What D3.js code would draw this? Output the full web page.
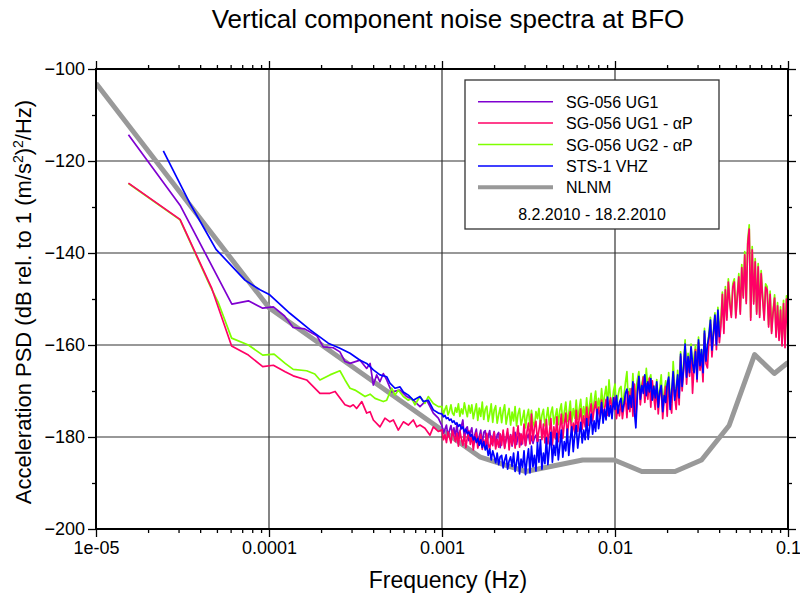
<!DOCTYPE html>
<html lang="en">
<head>
<meta charset="UTF-8" />
<title>Vertical component noise spectra at BFO</title>
<script src="https://d3js.org/d3.v7.min.js"></script>
<style>
  body { margin: 0; background: #fff; }
  svg { display: block; font-family: "Liberation Sans", Arial, Helvetica, sans-serif; }
  .grid line { stroke: #333; stroke-width: 1.2px; }
  .axis line { stroke: #000; stroke-width: 1.3px; }
  .axis text { font-size: 18px; fill: #000; font-family: "Liberation Sans", Arial, sans-serif; }
  .trace { fill: none; stroke-linejoin: round; }
</style>
</head>
<body>
<svg width="800" height="596"></svg>
<script>
// New Low Noise Model (Peterson) breakpoints
const nlnmFreq = [1e-5, 1e-4, 1.667e-3, 3.049e-3, 6.494e-3, 9.901e-3, 1.4286e-2, 2.2222e-2, 3.1646e-2, 4.5662e-2, 6.4103e-2, 8.3333e-2, 0.1];
const nlnmDb = [-103.1, -151.9, -184.4, -187.5, -185.0, -185.0, -187.5, -187.5, -185.0, -177.5, -162.1, -166.2, -163.8];

// low frequency part (below 1 mHz)
const ug1Freq = [1.54e-5, 3.06e-5, 6.1e-5, 7.6e-5, 9.2e-5, 1.06e-4, 1.23e-4, 1.38e-4, 1.61e-4, 1.89e-4, 2.06e-4, 2.35e-4, 2.57e-4, 2.75e-4, 2.94e-4, 3.36e-4, 3.67e-4, 3.84e-4, 4.01e-4, 4.19e-4, 4.38e-4, 4.58e-4, 4.79e-4, 5.12e-4, 5.72e-4, 6.25e-4, 6.82e-4, 7.46e-4, 8.16e-4, 8.91e-4, 9.52e-4];
const ug1Db = [-114.3, -129.6, -151.1, -150.4, -152.0, -151.7, -153.7, -156.2, -156.5, -158.0, -160.4, -160.6, -161.5, -163.6, -164.0, -163.3, -165.1, -164.0, -168.7, -166.5, -168.0, -166.2, -167.6, -170.2, -169.8, -171.2, -172.0, -173.4, -172.0, -174.8, -175.9];

const ug1apFreq = [1.54e-5, 3.06e-5, 4.67e-5, 6.08e-5, 7.6e-5, 9.2e-5, 1.06e-4, 1.24e-4, 1.38e-4, 1.65e-4, 1.97e-4, 2.25e-4, 2.41e-4, 2.75e-4, 2.94e-4, 3.07e-4, 3.21e-4, 3.44e-4, 3.67e-4, 3.84e-4, 4.01e-4, 4.38e-4, 4.68e-4, 5.0e-4, 5.23e-4, 5.59e-4, 5.98e-4, 6.39e-4, 6.82e-4, 7.14e-4, 7.46e-4, 7.97e-4, 8.52e-4, 8.91e-4, 9.52e-4];
const ug1apDb = [-124.8, -132.7, -147.7, -160.2, -162.2, -164.7, -164.4, -165.8, -166.7, -167.6, -170.5, -170.5, -170.1, -173.0, -173.4, -173.0, -173.8, -172.3, -174.8, -174.5, -176.3, -177.8, -175.9, -176.7, -176.3, -178.5, -176.7, -177.4, -176.3, -177.8, -177.4, -178.1, -179.6, -177.8, -178.8];

const ug2apFreq = [1.54e-5, 3.06e-5, 4.6e-5, 5.07e-5, 6.08e-5, 7.6e-5, 9.2e-5, 1.07e-4, 1.24e-4, 1.38e-4, 1.65e-4, 1.84e-4, 1.97e-4, 2.25e-4, 2.57e-4, 2.75e-4, 2.94e-4, 3.14e-4, 3.36e-4, 3.59e-4, 3.84e-4, 4.1e-4, 4.38e-4, 4.58e-4, 4.79e-4, 5.12e-4, 5.35e-4, 5.59e-4, 5.98e-4, 6.39e-4, 6.68e-4, 6.98e-4, 7.46e-4, 7.97e-4, 8.33e-4, 8.91e-4, 9.52e-4];
const ug2apDb = [-124.9, -132.8, -147.4, -150.6, -158.5, -160.0, -162.2, -162.0, -164.0, -165.3, -165.6, -166.3, -167.6, -166.5, -165.6, -167.6, -169.4, -169.8, -170.5, -171.2, -170.7, -171.6, -172.0, -172.3, -172.0, -169.4, -170.9, -169.8, -171.2, -172.0, -171.6, -173.0, -171.2, -172.7, -171.2, -172.7, -173.4];

const stsFreq = [2.45e-5, 3.49e-5, 4.27e-5, 4.94e-5, 7.26e-5, 8.87e-5, 1.01e-4, 1.32e-4, 1.73e-4, 2.2e-4, 2.57e-4, 2.94e-4, 3.36e-4, 3.67e-4, 4.01e-4, 4.38e-4, 4.79e-4, 5.0e-4, 5.35e-4, 5.72e-4, 5.98e-4, 6.39e-4, 6.82e-4, 7.46e-4, 7.8e-4, 8.33e-4, 8.91e-4, 9.52e-4];
const stsDb = [-117.8, -129.2, -135.0, -139.2, -145.9, -148.0, -149.1, -153.1, -156.7, -159.6, -160.7, -161.8, -163.3, -164.0, -165.4, -166.5, -166.9, -168.3, -169.4, -169.1, -170.2, -170.9, -172.0, -171.2, -172.3, -172.0, -174.1, -174.8];

// spectral bins per decade above 1 mHz (mantissas)
const binMant = [
  1.000, 1.020, 1.040, 1.061, 1.083, 1.104, 1.127, 1.149, 1.172, 1.196,
  1.219, 1.244, 1.269, 1.295, 1.320, 1.347, 1.374, 1.401, 1.429, 1.458,
  1.487, 1.517, 1.548, 1.579, 1.610, 1.643, 1.675, 1.709, 1.743, 1.778,
  1.814, 1.850, 1.887, 1.925, 1.964, 2.003, 2.043, 2.084, 2.126, 2.169,
  2.212, 2.257, 2.302, 2.348, 2.395, 2.443, 2.492, 2.542, 2.593, 2.645,
  2.698, 2.752, 2.807, 2.864, 2.921, 2.980, 3.039, 3.100, 3.162, 3.226,
  3.290, 3.356, 3.424, 3.492, 3.562, 3.634, 3.707, 3.781, 3.857, 3.934,
  4.013, 4.093, 4.175, 4.259, 4.345, 4.432, 4.520, 4.611, 4.703, 4.798,
  4.894, 4.992, 5.092, 5.194, 5.298, 5.404, 5.513, 5.623, 5.736, 5.851,
  5.968, 6.088, 6.210, 6.335, 6.462, 6.591, 6.723, 6.858, 6.996, 7.136,
  7.279, 7.425, 7.574, 7.726, 7.881, 8.039, 8.200, 8.365, 8.532, 8.703,
  8.878, 9.056, 9.237, 9.422, 9.611, 9.804];
const hfFreq = [...binMant.map(m => m * 1e-3), ...binMant.map(m => m * 1e-2), 0.1];

const ug1HF = [
  -177.6, -179.2, -178.3, -177.4, -179.8, -178.6, -177.5, -179.5, -178.0, -179.9,
  -177.3, -180.0, -178.8, -177.6, -176.3, -180.5, -178.2, -177.8, -180.8, -179.0,
  -178.0, -181.2, -179.5, -178.3, -181.4, -179.8, -178.5, -181.6, -179.0, -178.6,
  -182.0, -179.8, -178.6, -181.5, -180.2, -178.8, -182.1, -179.5, -179.0, -182.3,
  -180.3, -179.0, -182.2, -180.6, -179.1, -181.8, -179.5, -182.0, -180.2, -179.0,
  -181.6, -179.8, -179.2, -181.7, -180.5, -179.0, -181.8, -180.0, -179.4, -181.5,
  -179.8, -181.4, -180.2, -179.6, -181.2, -180.4];

const ug1apHF = [
  -178.4, -180.6, -179.5, -181.2, -178.9, -180.0, -181.3, -178.6, -179.8, -181.0,
  -179.2, -182.0, -178.7, -180.5, -181.8, -179.4, -182.3, -180.1, -178.6, -181.6,
  -179.6, -182.8, -180.3, -179.1, -182.4, -181.0, -179.4, -182.7, -180.6, -182.0,
  -179.2, -181.5, -182.8, -179.8, -181.9, -179.0, -182.6, -180.5, -182.2, -179.3,
  -181.8, -178.5, -182.5, -180.2, -178.2, -182.8, -179.6, -181.7, -177.9, -182.4,
  -180.0, -177.6, -182.2, -179.3, -181.5, -177.2, -181.9, -178.8, -177.0, -181.4,
  -175.0, -180.8, -177.9, -176.6, -181.0, -178.5, -176.4, -180.6, -177.2, -181.3,
  -176.2, -181.5, -179.0, -176.0, -181.7, -177.8, -180.4, -175.6, -181.0, -178.1,
  -175.0, -180.3, -177.2, -174.8, -179.8, -176.6, -174.5, -179.6, -177.0, -179.0,
  -174.2, -178.8, -176.0, -173.9, -178.3, -175.4, -177.8, -173.5, -177.5, -175.0,
  -172.8, -176.5, -174.0, -172.3, -175.8, -173.5, -175.9, -172.0, -175.6, -173.8,
  -171.8, -175.3, -173.0, -171.5, -175.0, -172.6, -171.4, -176.0, -173.5, -175.4,
  -172.0, -176.0, -173.2, -171.0, -175.8, -170.2, -174.5, -169.5, -175.5, -168.5,
  -176.0, -170.0, -167.3, -173.0, -169.5, -167.0, -172.5, -168.4, -171.8, -167.2,
  -173.5, -167.8, -171.2, -174.0, -168.5, -175.0, -170.6, -169.3, -176.0, -171.5,
  -169.0, -175.5, -167.5, -172.8, -174.8, -166.3, -171.0, -174.0, -167.8, -173.0,
  -162.5, -170.0, -165.5, -160.3, -168.5, -163.0, -166.8, -160.8, -170.5, -164.5,
  -161.0, -168.0, -159.5, -165.5, -162.5, -168.0, -157.5, -164.0, -165.0, -158.8,
  -155.5, -162.6, -158.0, -153.8, -161.0, -153.0, -159.5, -156.0, -149.0, -157.5,
  -148.0, -154.6, -146.3, -151.0, -154.0, -147.4, -146.3, -154.1, -149.5, -145.2,
  -153.3, -143.2, -149.8, -140.4, -151.0, -138.0, -134.8, -154.6, -139.3, -151.1,
  -141.9, -153.3, -143.0, -154.0, -144.5, -150.0, -154.6, -147.4, -148.0, -156.1,
  -149.0, -157.5, -153.0, -149.8, -158.3, -151.5, -159.0, -152.4, -160.2, -151.0,
  -160.6, -150.0, -157.6];

const ug2apHF = [
  -173.4, -175.0, -174.0, -173.2, -175.2, -174.4, -173.0, -174.8, -175.3, -173.6,
  -174.6, -172.8, -175.5, -173.9, -175.0, -172.6, -174.2, -175.6, -173.1, -174.8,
  -173.0, -176.0, -174.4, -172.8, -176.4, -173.7, -175.5, -172.4, -176.2, -174.0,
  -173.3, -176.6, -175.0, -172.8, -176.8, -174.1, -173.2, -177.0, -175.2, -173.6,
  -176.9, -174.4, -173.0, -177.2, -175.3, -173.8, -177.4, -174.6, -176.5, -173.4,
  -177.6, -175.0, -173.8, -177.4, -176.0, -174.2, -178.0, -175.5, -174.0, -177.7,
  -174.2, -176.8, -177.8, -174.5, -176.0, -173.8, -177.5, -175.2, -174.0, -177.6,
  -175.8, -173.6, -177.4, -174.8, -173.5, -177.2, -175.5, -173.9, -177.3, -174.2,
  -172.8, -177.0, -174.6, -172.4, -176.6, -175.0, -172.2, -176.8, -173.8, -175.9,
  -172.0, -176.2, -174.0, -171.8, -176.1, -173.4, -175.5, -171.5, -175.8, -173.0,
  -170.5, -174.8, -172.4, -170.0, -174.3, -171.6, -173.8, -169.5, -173.5, -171.0,
  -169.0, -173.2, -167.6, -171.8, -173.0, -170.0, -168.5, -174.0, -171.2, -169.5,
  -169.0, -173.5, -171.0, -168.2, -165.8, -173.0, -169.5, -172.0, -166.2, -173.5,
  -170.0, -167.5, -165.8, -171.0, -168.5, -166.8, -170.5, -165.1, -169.5, -167.4,
  -166.5, -171.5, -168.8, -172.0, -167.5, -172.8, -169.5, -166.5, -173.5, -170.2,
  -167.8, -173.0, -166.0, -171.5, -172.5, -163.6, -169.0, -171.0, -165.5, -170.0,
  -161.5, -168.5, -164.0, -158.9, -166.5, -161.8, -165.0, -159.8, -165.5, -162.5,
  -160.0, -166.5, -158.3, -164.0, -161.0, -165.5, -156.4, -163.0, -160.0, -157.5,
  -154.0, -160.5, -157.0, -153.0, -159.0, -151.8, -157.0, -154.5, -148.5, -156.5,
  -147.3, -154.0, -145.6, -150.5, -153.5, -146.7, -145.6, -153.6, -149.0, -144.5,
  -152.8, -142.5, -149.3, -139.7, -150.5, -137.3, -133.9, -154.0, -138.6, -150.6,
  -141.2, -152.8, -142.3, -153.5, -143.8, -149.5, -154.0, -146.7, -147.3, -155.6,
  -148.3, -157.0, -152.4, -149.1, -157.8, -150.8, -158.5, -151.7, -159.7, -150.3,
  -160.1, -149.3, -157.0];

const stsHF = [
  -175.0, -175.6, -175.3, -176.0, -175.8, -176.4, -176.1, -176.8, -176.5, -177.2,
  -176.9, -177.7, -177.3, -178.2, -177.8, -178.8, -178.4, -179.3, -178.9, -179.8,
  -179.5, -180.6, -180.0, -181.2, -180.3, -181.8, -180.6, -182.3, -181.0, -182.8,
  -181.8, -184.0, -182.6, -185.0, -183.0, -184.2, -185.6, -183.5, -186.0, -184.3,
  -184.0, -186.7, -185.0, -183.9, -187.0, -185.2, -184.3, -186.4, -183.5, -187.5,
  -185.6, -183.2, -188.0, -184.8, -186.6, -183.0, -188.2, -185.0, -182.6, -187.8,
  -182.0, -186.5, -184.0, -187.4, -181.2, -185.5, -180.6, -187.0, -183.5, -185.8,
  -180.2, -186.0, -182.5, -179.0, -185.5, -181.8, -184.0, -179.2, -185.0, -182.0,
  -178.5, -184.4, -181.0, -183.0, -178.3, -184.0, -180.5, -177.8, -183.2, -179.6,
  -177.5, -182.4, -179.5, -176.8, -181.3, -178.5, -180.6, -176.0, -180.5, -177.8,
  -175.0, -179.4, -176.5, -178.8, -174.0, -178.2, -175.8, -172.5, -177.0, -174.0,
  -176.3, -171.3, -175.5, -173.2, -176.0, -171.5, -174.0, -171.0, -174.8, -172.5,
  -171.6, -174.5, -172.8, -170.5, -169.6, -173.9, -171.0, -173.5, -168.0, -174.6,
  -178.0, -170.5, -166.8, -171.8, -168.8, -170.5, -166.5, -171.0, -168.0, -170.2,
  -167.3, -172.0, -169.0, -171.5, -168.0, -173.5, -170.2, -168.8, -174.5, -171.0,
  -172.5, -168.5, -167.0, -174.0, -170.0, -165.8, -172.0, -169.5, -166.5, -171.5,
  -162.0, -169.0, -165.0, -159.8, -167.0, -162.5, -166.0, -160.4, -164.0, -166.0,
  -161.5, -167.4, -158.9, -164.5, -161.0, -166.0, -157.0, -163.5, -160.0, -158.0,
  -154.6, -161.1, -157.5, -153.5, -160.0, -152.4, -158.3];

const xTickVals = [1e-5, 1e-4, 1e-3, 1e-2, 1e-1];
const xTickLabels = ["1e-05", "0.0001", "0.001", "0.01", "0.1"];
const legendLabels = ["SG-056 UG1", "SG-056 UG1 - \u03b1P", "SG-056 UG2 - \u03b1P", "STS-1 VHZ", "NLNM"];
const legendColors = ["#7f00d0", "#ff0066", "#7fff00", "#0000ff", "#999999"];
const dateRange = "8.2.2010 - 18.2.2010";

const svg = d3.select("svg");
const pLeft = 96, pRight = 788, pTop = 69, pBottom = 529;

const x = d3.scaleLog().domain([1e-5, 0.1]).range([pLeft, pRight]);
const y = d3.scaleLinear().domain([-200, -100]).range([pBottom, pTop]);

// grid
const grid = svg.append("g").attr("class", "grid");
grid.selectAll("line.v").data([1e-4, 1e-3, 1e-2]).enter().append("line")
  .attr("x1", d => x(d)).attr("x2", d => x(d)).attr("y1", pTop).attr("y2", pBottom);
grid.selectAll("line.h").data([-180, -160, -140, -120]).enter().append("line")
  .attr("x1", pLeft).attr("x2", pRight).attr("y1", d => y(d)).attr("y2", d => y(d));

svg.append("clipPath").attr("id", "plotclip").append("rect")
  .attr("x", pLeft).attr("y", pTop).attr("width", pRight - pLeft).attr("height", pBottom - pTop);

function build(fLo, dLo, dHi) {
  const pts = fLo.map((f, i) => [f, dLo[i]]);
  dHi.forEach((v, i) => pts.push([hfFreq[i], v]));
  return pts;
}

const line = d3.line().x(d => x(d[0])).y(d => y(d[1]));
const plot = svg.append("g").attr("clip-path", "url(#plotclip)");

plot.append("path").attr("class", "trace")
  .attr("d", line(nlnmFreq.map((f, i) => [f, nlnmDb[i]])))
  .style("stroke", legendColors[4]).style("stroke-width", "5px");

// draw order as in the original: UG1, UG2-aP, UG1-aP, STS-1
const series = [
  { pts: build(ug1Freq, ug1Db, ug1HF), color: legendColors[0] },
  { pts: build(ug2apFreq, ug2apDb, ug2apHF), color: legendColors[2] },
  { pts: build(ug1apFreq, ug1apDb, ug1apHF), color: legendColors[1] },
  { pts: build(stsFreq, stsDb, stsHF), color: legendColors[3] }
];
series.forEach(s => {
  plot.append("path").attr("class", "trace").attr("d", line(s.pts))
    .style("stroke", s.color).style("stroke-width", "1.7px");
});

// axes
function strip(g) { g.select(".domain").remove(); }
const xMinor = x.ticks().filter(d => !xTickVals.includes(d));

svg.append("g").attr("class", "axis").attr("transform", `translate(0,${pBottom})`)
  .call(d3.axisBottom(x).tickValues(xMinor).tickSize(4).tickFormat("")).call(strip);
svg.append("g").attr("class", "axis").attr("transform", `translate(0,${pBottom})`)
  .call(d3.axisBottom(x).tickValues(xTickVals).tickSize(8).tickPadding(4)
    .tickFormat((d, i) => xTickLabels[i])).call(strip);
svg.append("g").attr("class", "axis").attr("transform", `translate(0,${pTop})`)
  .call(d3.axisTop(x).tickValues(xMinor).tickSize(4).tickFormat("")).call(strip);
svg.append("g").attr("class", "axis").attr("transform", `translate(0,${pTop})`)
  .call(d3.axisTop(x).tickValues(xTickVals).tickSize(8).tickFormat("")).call(strip);

const yMajor = d3.range(-200, -99, 20);
const yMinor = d3.range(-190, -100, 20);
svg.append("g").attr("class", "axis").attr("transform", `translate(${pLeft},0)`)
  .call(d3.axisLeft(y).tickValues(yMajor).tickSize(8).tickPadding(3).tickFormat(d3.format("d"))).call(strip);
svg.append("g").attr("class", "axis").attr("transform", `translate(${pLeft},0)`)
  .call(d3.axisLeft(y).tickValues(yMinor).tickSize(4).tickFormat("")).call(strip);
svg.append("g").attr("class", "axis").attr("transform", `translate(${pRight},0)`)
  .call(d3.axisRight(y).tickValues(yMajor).tickSize(8).tickFormat("")).call(strip);
svg.append("g").attr("class", "axis").attr("transform", `translate(${pRight},0)`)
  .call(d3.axisRight(y).tickValues(yMinor).tickSize(4).tickFormat("")).call(strip);

// frame
svg.append("rect").attr("x", pLeft).attr("y", pTop).attr("width", pRight - pLeft).attr("height", pBottom - pTop)
  .attr("fill", "none").attr("stroke", "#000").attr("stroke-width", 2);

// legend
const lg = svg.append("g");
lg.append("rect").attr("x", 465).attr("y", 80).attr("width", 254).attr("height", 149)
  .attr("fill", "#fff").attr("stroke", "#333").attr("stroke-width", 1.3);
legendLabels.forEach((lab, i) => {
  const ly = 101.7 + i * 21.4;
  lg.append("line").attr("x1", 478).attr("x2", 553).attr("y1", ly).attr("y2", ly)
    .attr("stroke", legendColors[i]).attr("stroke-width", i === 4 ? 4 : 1.5);
  lg.append("text").attr("x", 566).attr("y", ly + 6).style("font-size", "16px").text(lab);
});
lg.append("text").attr("x", 592).attr("y", 220).attr("text-anchor", "middle")
  .style("font-size", "16px").text(dateRange);

// titles
svg.append("text").attr("x", 448).attr("y", 28).attr("text-anchor", "middle")
  .style("font-size", "26px").text("Vertical component noise spectra at BFO");
svg.append("text").attr("x", 448).attr("y", 588).attr("text-anchor", "middle")
  .style("font-size", "23px").text("Frequency (Hz)");

const yl = svg.append("text").attr("transform", "translate(31,302) rotate(-90)")
  .attr("text-anchor", "middle").style("font-size", "22px");
yl.append("tspan").text("Acceleration PSD (dB rel. to 1 (m/s");
yl.append("tspan").attr("dy", -8).style("font-size", "14px").text("2");
yl.append("tspan").attr("dy", 8).text(")");
yl.append("tspan").attr("dy", -8).style("font-size", "14px").text("2");
yl.append("tspan").attr("dy", 8).text("/Hz)");
</script>
</body>
</html>
